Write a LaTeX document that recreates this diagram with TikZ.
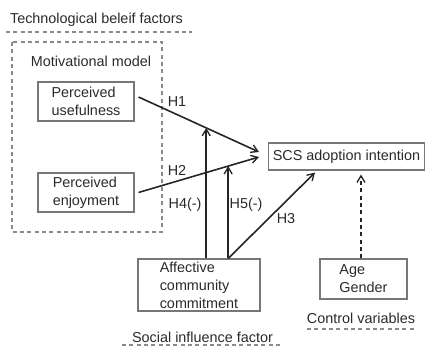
\documentclass[tikz,border=0pt]{standalone}
\usepackage{fontspec}
\setmainfont{Liberation Sans}
\usetikzlibrary{arrows.meta,calc}
\definecolor{txt}{HTML}{2A2A2A}
\definecolor{boxc}{HTML}{777777}
\definecolor{dashc}{HTML}{8A8A8A}
\begin{document}
\begin{tikzpicture}[x=0.75pt,y=-0.75pt,
  every node/.style={font=\fontsize{10.8}{13.5}\selectfont,text=txt},
  varbox/.style={draw=boxc,line width=0.8pt,inner sep=0pt,align=left},
  lbl/.style={inner sep=0pt},
  link/.style={line width=1.2pt,draw=black!85,-{Straight Barb[length=5pt,width=6pt,line width=1pt]}},
  dashline/.style={draw=dashc,line width=0.8pt,dash pattern=on 3pt off 2.5pt},
  ]
\useasboundingbox (0,0) rectangle (429,348);
% group frames
\node[lbl] (tbf) at (96.5,20) {Technological beleif factors};
\coordinate (tbfl) at (6,32);
\coordinate (tbfr) at (192,32);
\draw[dashline] (tbfl) -- (tbfr);
\coordinate (mmA) at (12,42);
\coordinate (mmB) at (162,232);
\draw[dashline] (mmA) rectangle (mmB);
\node[lbl] (mm) at (91,61) {Motivational model};
% variable boxes
\node[varbox,minimum width=72pt,minimum height=29.25pt] (pu) at (86,101.5) {Perceived\\usefulness};
\node[varbox,minimum width=72pt,minimum height=29.25pt] (pe) at (86,192.5) {Perceived\\enjoyment};
\node[varbox,align=center,minimum width=117pt,minimum height=20.25pt] (scs) at (346.5,156.5) {SCS adoption intention};
\node[varbox,minimum width=91.5pt,minimum height=39pt] (acc) at (199,285) {Affective\\community\\commitment};
\node[varbox,minimum width=65.25pt,minimum height=30pt] (age) at (363.5,279) {Age\\Gender};
% connectors
\coordinate (t1) at (259,152);
\coordinate (t2) at (259,157);
\draw[link] ([shift={(4,-4.5)}]pu.east) -- coordinate[pos=0.562] (m1) (t1);
\draw[link] ([shift={(4,0)}]pe.east) -- coordinate[pos=0.744] (m2) (t2);
\draw[link] (m1 |- acc.north) -- (m1);
\draw[link] (m2 |- acc.north) -- (m2);
\draw[link] (m2 |- acc.north) -- ([shift={(-31.5,2)}]scs.south);
\draw[link,dash pattern=on 3pt off 2.5pt] ([shift={(-2.5,0)}]age.north) -- ([shift={(-2.5,4)}]age.north |- scs.south);
% labels
\node[lbl] (h1) at (177,102) {H1};
\node[lbl] (h2) at (177,170) {H2};
\node[lbl] (h4) at (185,205) {H4(-)};
\node[lbl] (h5) at (246,205) {H5(-)};
\node[lbl] (h3) at (286,219) {H3};
% bottom captions
\node[lbl] (cv) at (361,318) {Control variables};
\coordinate (cvl) at (307,329);
\coordinate (cvr) at (415,329);
\draw[dashline] (cvl) -- (cvr);
\node[lbl] (sif) at (202.5,337) {Social influence factor};
\coordinate (sifl) at (122,345);
\coordinate (sifr) at (282,345);
\draw[dashline] (sifl) -- (sifr);
\end{tikzpicture}
\end{document}
